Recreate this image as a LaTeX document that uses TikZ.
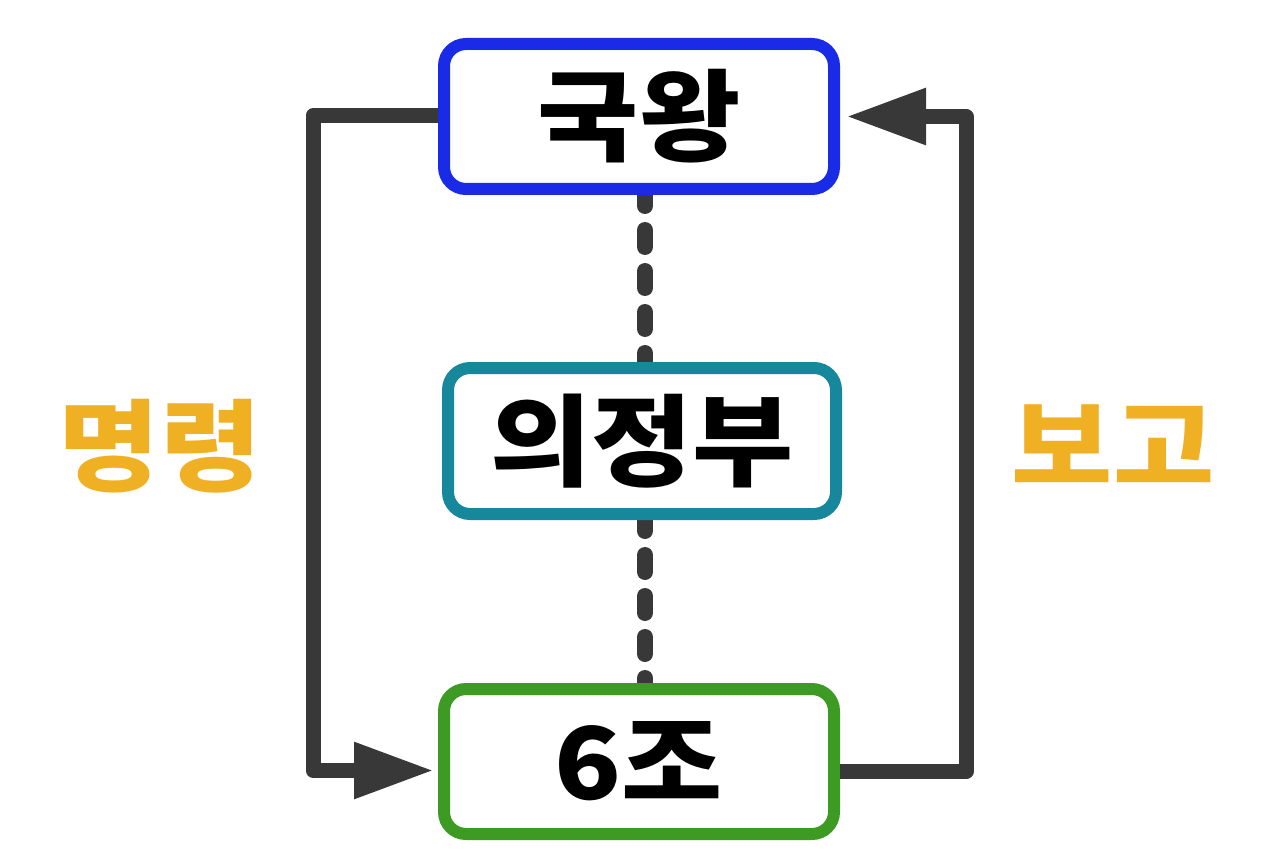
\documentclass[tikz,border=0pt]{standalone}
\usepackage{fontspec}
\newfontfamily\kr{Noto Sans CJK KR}[UprightFont={* Black}, BoldFont={* Black}, FakeStretch=1.1]
\usetikzlibrary{arrows.meta}
\definecolor{kingblue}{HTML}{1A2BE8}
\definecolor{councilteal}{HTML}{17889C}
\definecolor{boardgreen}{HTML}{3D9A22}
\definecolor{linegray}{HTML}{383838}
\definecolor{labelorange}{HTML}{F0B024}
\tikzset{
  orgbox/.style={draw, line width=12pt, rounded corners=22pt, fill=white,
    minimum width=390pt, minimum height=145pt, inner sep=0pt,
    font=\kr\fontsize{100}{100}\selectfont, text=black},
  flowline/.style={draw=linegray, line width=15pt, line join=round, line cap=butt},
  flowtip/.style={-{Triangle[length=80pt,width=53pt]}},
  linkline/.style={draw=linegray, line width=16pt, line cap=round, dash pattern=on 17pt off 24pt},
  sidelabel/.style={font=\kr\fontsize{100}{100}\selectfont, text=labelorange, inner sep=0pt}
}
\begin{document}
\begin{tikzpicture}[x=1pt,y=-1pt]
\useasboundingbox (0,0) rectangle (1275,864);
% dashed links (drawn first, under boxes)
\coordinate (kingS) at (645,189);
\coordinate (counN) at (645,368);
\coordinate (counS) at (645,514);
\coordinate (sixN) at (645,689);
\draw[linkline] (kingS) -- (counN);
\draw[linkline] (counS) -- (sixN);
% boxes
\node[orgbox, draw=kingblue] (king) at (639,116.5) {국왕};
\node[orgbox, draw=councilteal, minimum width=388pt, minimum height=146pt] (council) at (642,441) {의정부};
\node[orgbox, draw=boardgreen] (six) at (639,761.5) {6조};
% connectors
\draw[flowline, flowtip] ([yshift=1pt]king.west) -- ++(-125,0) |- ([xshift=-4pt,yshift=-9pt]six.west);
\draw[flowline, flowtip] ([yshift=-10pt]six.east) -- ++(126,0) |- ([xshift=6pt,yshift=0pt]king.east);
% labels
\node[sidelabel] (cmd) at (160,446) {명령};
\node[sidelabel] (rpt) at (1113,444) {보고};
\end{tikzpicture}
\end{document}
